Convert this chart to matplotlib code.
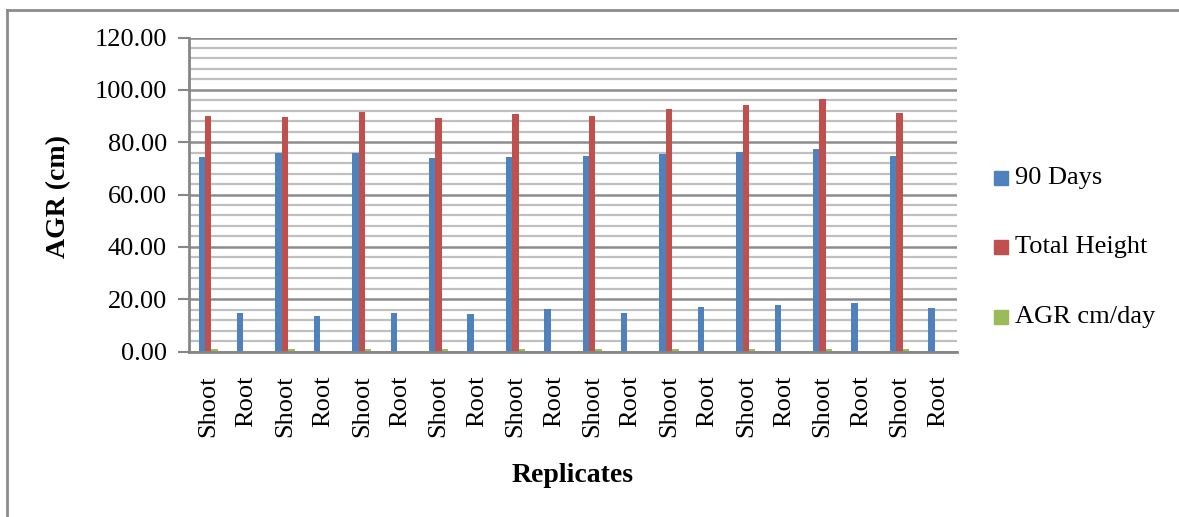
import matplotlib
matplotlib.use("Agg")
import matplotlib.pyplot as plt
import numpy as np
from matplotlib.lines import Line2D

plt.rcParams['font.family'] = ['Liberation Serif', 'DejaVu Serif']

categories = ["Shoot", "Root"] * 10
days90 = [74.4, 14.8, 75.7, 13.5, 75.9, 14.8, 74.1, 14.3, 74.4, 16.1,
          74.9, 14.8, 75.4, 16.9, 76.1, 17.8, 77.5, 18.7, 74.6, 16.5]
total_height = [90.0, 0, 89.6, 0, 91.4, 0, 89.1, 0, 90.9, 0,
                90.1, 0, 92.6, 0, 94.3, 0, 96.6, 0, 91.3, 0]
agr = [0.83, 0, 0.83, 0, 0.85, 0, 0.82, 0, 0.83, 0,
       0.83, 0, 0.84, 0, 0.85, 0, 0.86, 0, 0.83, 0]
series_names = ["90 Days", "Total Height", "AGR cm/day"]
colors = ["#4F81BD", "#C0504D", "#9BBB59"]
yticks = [0, 20, 40, 60, 80, 100, 120]

W, H = 1179, 517
fig = plt.figure(figsize=(W / 100, H / 100), dpi=100)
ax = fig.add_axes([189 / W, 1 - 351.5 / H, (957 - 189) / W, (351.5 - 37.5) / H])

x = np.arange(len(categories))
bw = 0.165
for i, (vals, c) in enumerate(zip([days90, total_height, agr], colors)):
    ax.bar(x + (i - 1) * bw, vals, width=bw, color=c, edgecolor='none', zorder=3)

ax.set_xlim(-0.5, len(categories) - 0.5)
ax.set_ylim(0, 120)
ax.set_yticks(yticks)
ax.set_yticklabels([f"{v:.2f}" for v in yticks], fontsize=19)
ax.set_yticks(np.arange(0, 121, 4), minor=True)
ax.tick_params(axis='y', which='major', length=8, width=1.5, color='#868686', pad=8)
ax.tick_params(axis='y', which='minor', length=0)
ax.grid(axis='y', which='minor', color='#BFBFBF', lw=1.6, zorder=1)
ax.grid(axis='y', which='major', color='#8C8C8C', lw=1.8, zorder=2)

ax.set_xticks(x)
ax.set_xticklabels(categories, rotation=90, fontsize=19)
ax.tick_params(axis='x', length=0, pad=17)

for s in ['top', 'right']:
    ax.spines[s].set_visible(False)
for s in ['left', 'bottom']:
    ax.spines[s].set_color('#868686')
    ax.spines[s].set_linewidth(2)
    ax.spines[s].set_zorder(4)

fig.text(59 / W, 1 - 197 / H, "AGR (cm)", rotation=90, ha='center', va='center',
         fontsize=20, fontweight='bold')
fig.text(573 / W, 1 - 476 / H, "Replicates", ha='center', va='center',
         fontsize=20, fontweight='bold')

# legend
ly = [178, 247, 317]
for name, c, yy in zip(series_names, colors, ly):
    fig.patches.append(plt.Rectangle((994 / W, 1 - (yy + 7) / H), 14 / W, 14 / H,
                                     transform=fig.transFigure, color=c))
    fig.text(1015 / W, 1 - yy / H, name, ha='left', va='center', fontsize=19)

# outer border (left and top)
fig.add_artist(Line2D([7.5 / W, 7.5 / W], [0, 1 - 9.5 / H], transform=fig.transFigure,
                      color='#8C8C8C', lw=2))
fig.add_artist(Line2D([7.5 / W, 1], [1 - 9.5 / H, 1 - 9.5 / H], transform=fig.transFigure,
                      color='#8C8C8C', lw=2))

fig.savefig("out.png", dpi=100)
